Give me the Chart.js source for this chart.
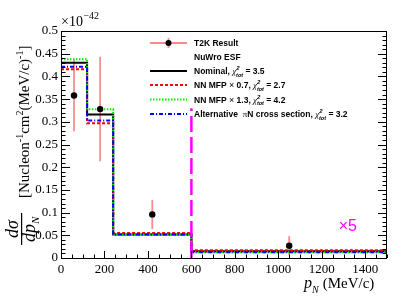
<!DOCTYPE html>
<html>
<head>
<meta charset="utf-8">
<script src="https://cdn.jsdelivr.net/npm/chart.js@4.4.0/dist/chart.umd.min.js"></script>
<style>
  html, body { margin: 0; padding: 0; background: #fff; }
</style>
</head>
<body>
<canvas id="chart" width="407" height="305"></canvas>
<script>
// bin edges (MeV/c) and predictions per bin (last bin already x5)
var binEdges = [0, 120, 240, 600, 1500];
var nominal = [0.430, 0.316, 0.052, 0.0148];
var mfp07 = [0.416, 0.297, 0.055, 0.0170];
var mfp13 = [0.438, 0.3275, 0.0505, 0.0128];
var altPiN = [0.4215, 0.303, 0.0515, 0.0125];

// T2K data points
var dataX = [60, 180, 420, 1050];
var dataY = [0.358, 0.328, 0.096, 0.027];
var dataErr = [0.079, 0.115, 0.032, 0.021];

var chi2 = [3.5, 2.7, 4.2, 3.2];
var cutX = 600, cutTop = 0.33;
var xTickValues = [0, 200, 400, 600, 800, 1000, 1200, 1400];
var yLabelStep = 0.05;

var serif = '"Liberation Serif", "DejaVu Serif", serif';
var sans = '"Liberation Sans", Arial, sans-serif';

function histPoints(vals) {
    var pts = vals.map(function (v, i) { return { x: binEdges[i], y: v }; });
    pts.push({ x: binEdges[binEdges.length - 1], y: vals[vals.length - 1] });
    return pts;
}

// draws a list of text pieces [text, font, dy, extra advance] left to right
function richText(ctx, x, y, parts) {
    parts.forEach(function (p) {
        ctx.font = p[1];
        ctx.fillText(p[0], x, y + (p[2] || 0));
        x += ctx.measureText(p[0]).width + (p[3] || 0);
    });
    return x;
}

function chiParts(val) {
    return [
        ['\u03c7', 'italic 9px ' + serif, 0, 0],
        ['2', 'italic bold 6px ' + sans, -4, -3.5],
        ['tot', 'italic bold 5.5px ' + sans, 2.5, 0],
        [' = ' + val.toFixed(1), 'bold 8.5px ' + sans, 0]
    ];
}

var errorBars = {
    id: 'errorBars',
    beforeDatasetsDraw: function (chart) {
        var ctx = chart.ctx, xs = chart.scales.x, ys = chart.scales.y;
        ctx.save();
        ctx.strokeStyle = 'rgba(245,120,120,0.85)';
        ctx.lineWidth = 1.8;
        dataX.forEach(function (x, i) {
            var px = xs.getPixelForValue(x);
            ctx.beginPath();
            ctx.moveTo(px, ys.getPixelForValue(dataY[i] + dataErr[i]));
            ctx.lineTo(px, ys.getPixelForValue(Math.max(0, dataY[i] - dataErr[i])));
            ctx.stroke();
        });
        ctx.restore();
    }
};

var frame = {
    id: 'frame',
    afterDatasetsDraw: function (chart) {
        var ctx = chart.ctx, a = chart.chartArea;
        var xs = chart.scales.x, ys = chart.scales.y;
        ctx.save();
        ctx.strokeStyle = '#000';
        ctx.lineWidth = 1;
        ctx.strokeRect(a.left + 0.5, a.top + 0.5, a.right - a.left - 1, a.bottom - a.top);
        ctx.beginPath();
        var i, v, py, px, len;
        for (i = 0; i <= 50; i++) {
            v = i * 0.01;
            py = Math.round(ys.getPixelForValue(v)) + 0.5;
            len = (i % 5 === 0) ? 9 : 4.5;
            ctx.moveTo(a.left, py); ctx.lineTo(a.left + len, py);
            ctx.moveTo(a.right, py); ctx.lineTo(a.right - len, py);
        }
        for (i = 0; i <= 30; i++) {
            v = i * 50;
            px = Math.round(xs.getPixelForValue(v)) + 0.5;
            len = (v % 200 === 0) ? 7 : 3.5;
            ctx.moveTo(px, a.bottom); ctx.lineTo(px, a.bottom - len);
        }
        ctx.stroke();

        // x5 note on last bin
        ctx.fillStyle = '#ff00ff';
        ctx.font = '16px ' + sans;
        ctx.textAlign = 'center';
        ctx.textBaseline = 'alphabetic';
        ctx.fillText('\u00d75', xs.getPixelForValue(1320), ys.getPixelForValue(0.06));
        ctx.restore();
    }
};

var texts = {
    id: 'texts',
    afterDraw: function (chart) {
        var ctx = chart.ctx, a = chart.chartArea;
        ctx.save();
        ctx.fillStyle = '#000';
        ctx.textBaseline = 'alphabetic';
        ctx.textAlign = 'left';

        // exponent
        richText(ctx, a.left, 26, [
            ['\u00d710', '14px ' + serif, 0, 0.5],
            ['\u221242', '10px ' + serif, -7]
        ]);

        // x title
        richText(ctx, 304, 288, [
            ['p', 'italic 16px ' + serif, 0, 0],
            ['N', 'italic 10px ' + serif, 5, 4],
            ['(MeV/c)', '15px ' + serif, 0]
        ]);

        // y title (rotated)
        ctx.save();
        ctx.rotate(-Math.PI / 2);
        ctx.textAlign = 'center';
        var cu = -229;
        ctx.font = 'italic 18px ' + serif;
        ctx.fillText('d\u03c3', cu, 18);
        ctx.fillRect(cu - 16, 21, 32, 1.2);
        ctx.textAlign = 'left';
        richText(ctx, cu - 13, 35, [
            ['dp', 'italic 18px ' + serif, 0, 0],
            ['N', 'italic 11px ' + serif, 4]
        ]);
        richText(ctx, -198, 29, [
            ['[Nucleon', '15px ' + serif, 0],
            ['-1', '10px ' + serif, -6],
            ['cm', '15px ' + serif, 0],
            ['2', '10px ' + serif, -6],
            ['(MeV/c)', '15px ' + serif, 0],
            ['-1', '10px ' + serif, -6],
            [']', '15px ' + serif, 0]
        ]);
        ctx.restore();

        // legend
        var lx0 = 150, lx1 = 187, tx = 194;
        var rows = [43, 57, 71, 85, 99.5, 114];
        ctx.fillStyle = '#000';
        var bold = 'bold 8.5px ' + sans;
        function row(y, parts) { richText(ctx, tx, y + 3, parts); }

        // T2K result symbol
        ctx.strokeStyle = 'rgba(245,120,120,0.85)';
        ctx.lineWidth = 1.8;
        ctx.beginPath();
        ctx.moveTo(lx0, rows[0]); ctx.lineTo(lx1, rows[0]);
        ctx.moveTo((lx0 + lx1) / 2, rows[0] - 5); ctx.lineTo((lx0 + lx1) / 2, rows[0] + 5);
        ctx.stroke();
        ctx.beginPath();
        ctx.arc((lx0 + lx1) / 2, rows[0], 3, 0, Math.PI * 2);
        ctx.fill();
        row(rows[0], [['T2K Result', bold, 0]]);
        row(rows[1], [['NuWro ESF', bold, 0]]);

        var styles = [
            ['#000000', []],
            ['#ff0000', [3, 2]],
            ['#00ee00', [1.5, 1.5]],
            ['#0000ff', [4, 2, 1, 2]]
        ];
        var heads = [
            [['Nominal, ', bold, 0]],
            [['NN MFP ', bold, 0], ['\u00d7', '9px ' + sans, 0], [' 0.7, ', bold, 0]],
            [['NN MFP ', bold, 0], ['\u00d7', '9px ' + sans, 0], [' 1.3, ', bold, 0]],
            [['Alternative  ', bold, 0], ['\u03c0', '9px ' + serif, 0], ['N cross section, ', bold, 0]]
        ];
        styles.forEach(function (s, i) {
            var y = rows[i + 2];
            ctx.strokeStyle = s[0];
            ctx.lineWidth = 2;
            ctx.setLineDash(s[1]);
            ctx.beginPath();
            ctx.moveTo(lx0, y); ctx.lineTo(lx1, y);
            ctx.stroke();
            ctx.setLineDash([]);
            ctx.fillStyle = '#000';
            row(y, heads[i].concat(chiParts(chi2[i])));
        });
        ctx.restore();
    }
};

function histSet(vals, color, dash) {
    return {
        data: histPoints(vals),
        borderColor: color,
        borderWidth: 2,
        borderDash: dash,
        stepped: 'before',
        pointRadius: 0,
        fill: false
    };
}

var ctx = document.getElementById('chart');
new Chart(ctx, {
    type: 'line',
    data: {
        datasets: [
            {
                data: dataX.map(function (x, i) { return { x: x, y: dataY[i] }; }),
                showLine: false,
                pointRadius: 3.2,
                pointBackgroundColor: '#000',
                pointBorderColor: '#000',
                pointBorderWidth: 0
            },
            {
                data: [{ x: cutX, y: 0 }, { x: cutX, y: cutTop }],
                borderColor: '#ff00ff',
                borderWidth: 2.5,
                borderDash: [16, 5],
                pointRadius: 0,
                fill: false
            },
            histSet(altPiN, '#0000ff', [4, 2, 1, 2]),
            histSet(mfp13, '#00ee00', [1.5, 1.5]),
            histSet(mfp07, '#ff0000', [3, 2]),
            histSet(nominal, '#000000', [])
        ]
    },
    options: {
        responsive: false,
        animation: false,
        layout: { padding: { top: 31, right: 20, left: 0, bottom: 0 } },
        plugins: { legend: { display: false }, tooltip: { enabled: false } },
        scales: {
            x: {
                type: 'linear',
                min: 0,
                max: 1500,
                grid: { display: false, drawTicks: false },
                border: { display: false },
                afterBuildTicks: function (s) {
                    s.ticks = xTickValues.map(function (v) { return { value: v }; });
                },
                afterFit: function (s) { s.height = 47; },
                ticks: {
                    padding: 4,
                    color: '#000',
                    maxRotation: 0,
                    autoSkip: false,
                    font: { family: serif, size: 13 },
                    callback: function (v) { return String(v); }
                }
            },
            y: {
                type: 'linear',
                min: 0,
                max: 0.5,
                grid: { display: false, drawTicks: false },
                border: { display: false },
                afterFit: function (s) { s.width = 61; },
                ticks: {
                    stepSize: yLabelStep,
                    padding: 3,
                    color: '#000',
                    autoSkip: false,
                    font: { family: serif, size: 13 },
                    callback: function (v) { return String(+v.toFixed(2)); }
                }
            }
        }
    },
    plugins: [errorBars, frame, texts]
});
</script>
</body>
</html>
